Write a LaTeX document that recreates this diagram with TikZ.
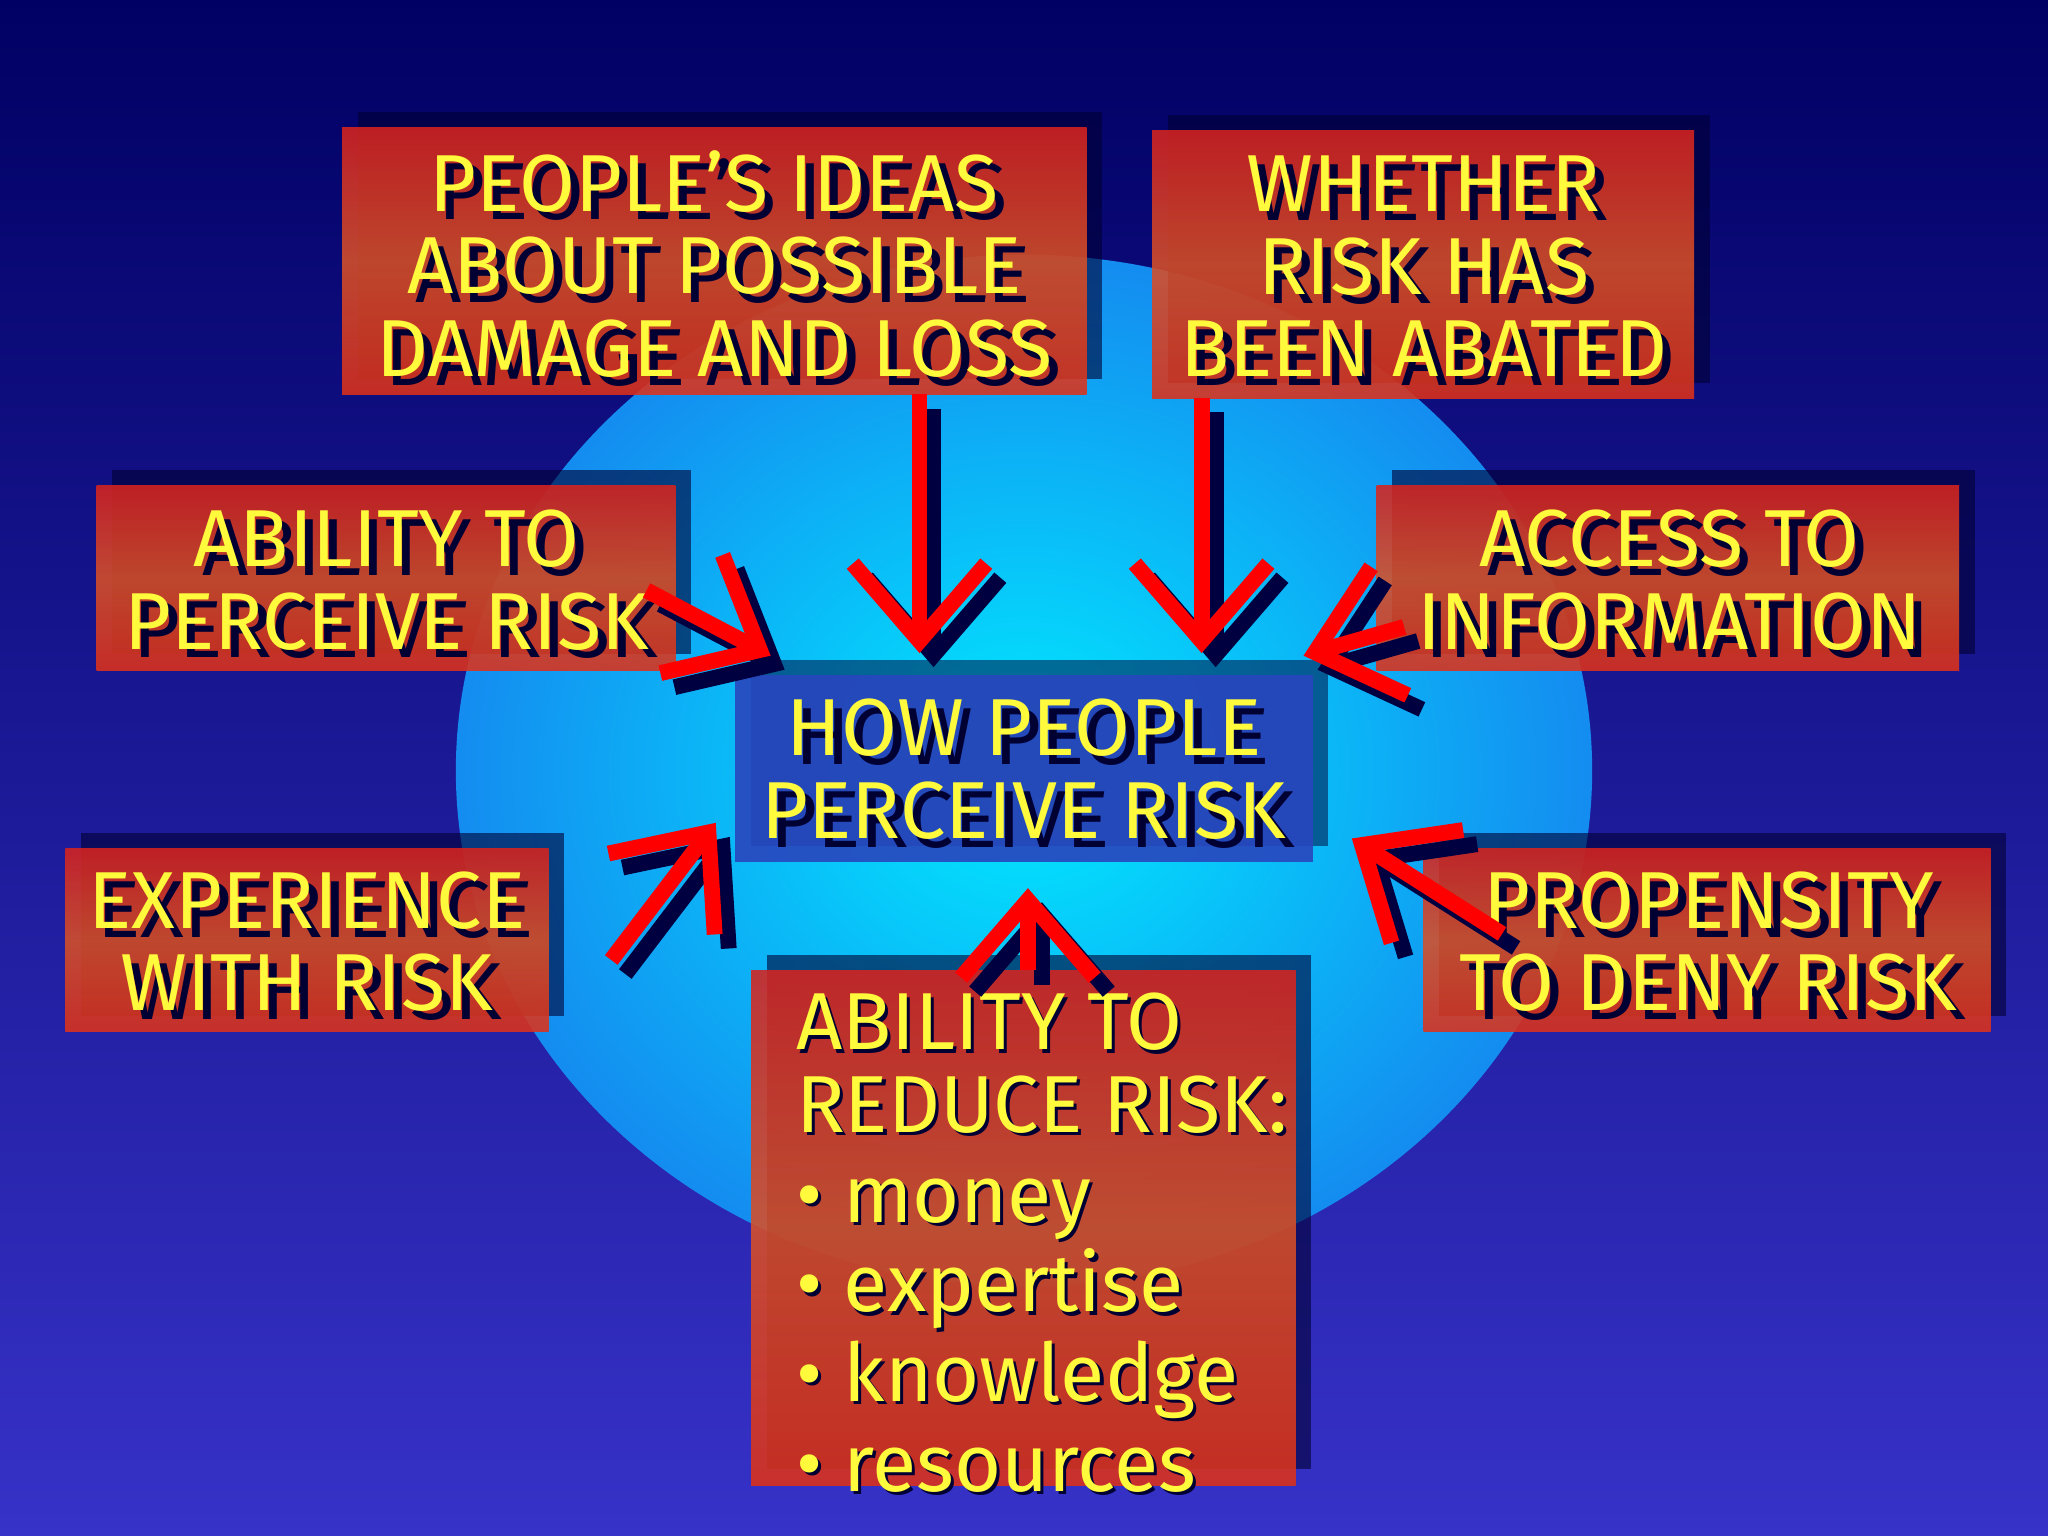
\documentclass[tikz,border=0pt]{standalone}
\usepackage{fontspec}
\setmainfont{Fira Sans}
\usetikzlibrary{arrows.meta,shadows}
\definecolor{ylw}{RGB}{255,250,60}
\definecolor{bxred}{RGB}{215,35,30}
\definecolor{bxorg}{RGB}{215,80,40}
\tikzset{
 redbox/.style={draw=none,top color=bxred,bottom color=bxred!85!orange,middle color=bxorg,fill opacity=0.88,drop shadow={shadow xshift=12,shadow yshift=-12,opacity=0.6,fill=black!80!blue}},
 bluebox/.style={draw=none,fill={rgb,255:red,40;green,70;blue,190},fill opacity=0.9,drop shadow={shadow xshift=12,shadow yshift=-12,opacity=0.5,fill=black!80!blue}},
 txt/.style={text=ylw,align=center,font=\fontsize{23}{23.5}\selectfont},
 txtsh/.style={text=black!80!blue,align=center,font=\fontsize{23}{23.5}\selectfont},
 arr/.style={draw=red,line width=4.5,-{Straight Barb[length=22,width=38,line width=4.5]}},
 arrsh/.style={draw=black!75!blue,line width=4.5,-{Straight Barb[length=22,width=38,line width=4.5]}},
}
\newcommand\twotext[3]{%
 \node[txtsh] at ([xshift=2.5,yshift=-2.5]#1) {#3};
 \node[txt] (#2) at (#1) {#3};}
\begin{document}
\begin{tikzpicture}[x=0.013061cm,y=-0.013061cm]
\useasboundingbox (0,0) rectangle (1568,1176);
\shade[top color={rgb,255:red,0;green,0;blue,100},bottom color={rgb,255:red,55;green,50;blue,200}] (0,0) rectangle (1568,1176);
\shade[inner color={rgb,255:red,0;green,235;blue,255},outer color={rgb,255:red,20;green,140;blue,240}] (784,590) ellipse [x radius=435,y radius=395];
% boxes
\path[redbox] (262,98) rectangle (832,302);
\path[redbox] (882,100) rectangle (1297,305);
\path[redbox] (74,372) rectangle (517,513);
\path[redbox] (1054,372) rectangle (1500,513);
\path[redbox] (50,650) rectangle (420,790);
\path[redbox] (1090,650) rectangle (1524,790);
\path[redbox] (575,743) rectangle (992,1137);
\path[bluebox] (563,517) rectangle (1005,660);
% texts
\twotext{547,202}{t1}{PEOPLE'S IDEAS\\ABOUT POSSIBLE\\DAMAGE AND LOSS}
\twotext{1090,204}{t2}{WHETHER\\RISK HAS\\BEEN ABATED}
\twotext{296,444}{t3}{ABILITY TO\\PERCEIVE RISK}
\twotext{1278,444}{t4}{ACCESS TO\\INFORMATION}
\twotext{235,721}{t5}{EXPERIENCE\\WITH RISK}
\twotext{1308,721}{t6}{PROPENSITY\\TO DENY RISK}
\twotext{784,589}{c}{HOW PEOPLE\\PERCEIVE RISK}
\node[txtsh,align=left,anchor=north west] at (602.5,753.5) {ABILITY TO\\REDUCE RISK:\\[2pt]\textbullet\ money\\[2pt]\textbullet\ expertise\\[2pt]\textbullet\ knowledge\\[2pt]\textbullet\ resources};
\node[txt,align=left,anchor=north west] (t7) at (600,751) {ABILITY TO\\REDUCE RISK:\\[2pt]\textbullet\ money\\[2pt]\textbullet\ expertise\\[2pt]\textbullet\ knowledge\\[2pt]\textbullet\ resources};
% arrows
\foreach \n/\a/\b/\c/\d in {1/704/302/704/500, 2/920/305/920/500, 3/495/452/590/502, 4/1075/480/998/502, 5/468/735/548/630, 6/1150/715/1035/642, 7/787/743/787/680}{
 \coordinate (s\n) at (\a,\b); \coordinate (e\n) at (\c,\d);
 \draw[arrsh] ([xshift=4,yshift=-4]s\n) -- ([xshift=4,yshift=-4]e\n);
 \draw[arr] (s\n) -- (e\n);
}
\end{tikzpicture}
\end{document}
